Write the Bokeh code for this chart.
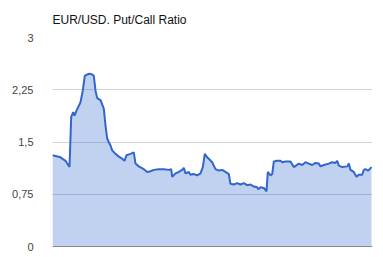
from bokeh.plotting import figure
from bokeh.models import Range1d, FixedTicker, Span
from bokeh.embed import file_html
from bokeh.resources import INLINE

title = "EUR/USD. Put/Call Ratio"
t = [0, 8, 13, 17, 18.7, 20.7, 22, 24, 28, 30.3, 32.3, 34.7, 37, 39.7, 41.3, 43, 44.7, 48,
     51.3, 53, 54.7, 56.3, 58, 59.7, 63, 66.3, 69.7, 72, 74, 78, 81.3, 83, 86.3, 91.3, 94.7,
     98, 101.3, 106.3, 111.3, 116.3, 118.7, 119.7, 123, 126.3, 129.7, 131.3, 133, 136.3, 138,
     141.3, 144.7, 148, 150.3, 152.3, 154.7, 156.3, 159.7, 163, 166.3, 169.7, 173, 176.3, 178,
     181.3, 184.7, 188, 191.3, 194.7, 198, 201.3, 204.7, 205.7, 208, 211.3, 214, 215.3, 218,
     219.7, 221.3, 224.7, 228, 229.7, 233, 238, 241.3, 246.3, 249.7, 253, 256.3, 259.7, 263,
     266.3, 268, 271.3, 276.3, 279.7, 283, 284.7, 286.3, 289.7, 294.7, 296.3, 298, 301.3, 304,
     306.3, 309.7, 311.3, 313, 315.7, 319]
ratio = [1.31, 1.28, 1.23, 1.14, 1.86, 1.93, 1.88, 1.95, 2.07, 2.24, 2.45, 2.47, 2.48, 2.47,
         2.45, 2.24, 2.13, 2.10, 1.98, 1.74, 1.55, 1.50, 1.45, 1.38, 1.33, 1.29, 1.26, 1.23,
         1.31, 1.33, 1.35, 1.19, 1.15, 1.11, 1.07, 1.08, 1.10, 1.11, 1.11, 1.10, 1.11, 1.00,
         1.05, 1.07, 1.10, 1.13, 1.05, 1.07, 1.03, 1.04, 1.02, 1.05, 1.14, 1.33, 1.28, 1.26,
         1.21, 1.11, 1.09, 1.10, 1.07, 1.04, 0.90, 0.89, 0.91, 0.89, 0.91, 0.88, 0.89, 0.86,
         0.85, 0.82, 0.85, 0.84, 0.79, 1.07, 1.02, 1.04, 1.22, 1.23, 1.23, 1.21, 1.22, 1.22,
         1.14, 1.19, 1.17, 1.21, 1.19, 1.17, 1.20, 1.19, 1.15, 1.17, 1.19, 1.21, 1.20, 1.23,
         1.16, 1.14, 1.15, 1.19, 1.10, 1.07, 1.00, 1.03, 1.03, 1.10, 1.11, 1.09, 1.14]
ticks = [0, 0.75, 1.5, 2.25, 3]
tick_labels = ["0", "0,75", "1,5", "2,25", "3"]

p = figure(width=383, height=257, output_backend="svg", toolbar_location=None,
           x_range=Range1d(0, 320), y_range=Range1d(0, 3),
           min_border_left=52, min_border_right=11, min_border_top=37, min_border_bottom=11)
p.outline_line_color = None
p.background_fill_color = "white"

p.title.text = title
p.title.text_font = "Liberation Sans"
p.title.text_font_size = "12px"
p.title.text_font_style = "normal"
p.title.text_color = "#111111"
p.title.standoff = 17
p.title.vertical_align = "top"
p.title.offset = 0

p.xaxis.visible = False
p.xgrid.visible = False

yax = p.yaxis[0]
yax.ticker = FixedTicker(ticks=ticks)
yax.major_label_overrides = {v: s for v, s in zip(ticks, tick_labels)}
yax.axis_line_color = None
yax.major_tick_line_color = None
yax.minor_tick_line_color = None
yax.major_label_standoff = 13
yax.major_label_text_font = "Liberation Sans"
yax.major_label_text_font_size = "11px"
yax.major_label_text_color = "#444444"

p.ygrid.ticker = FixedTicker(ticks=ticks[1:])
p.ygrid.grid_line_color = "#a8a0b0"
p.ygrid.grid_line_dash = "1 1"

p.varea(x=t, y1=0, y2=ratio, fill_color="#3366cc", fill_alpha=0.3)
p.line(x=t, y=ratio, line_color="#3366cc", line_width=2)
p.add_layout(Span(location=0, dimension="width", line_color="#222222", line_width=1))

open("out.html", "w").write(file_html(p, INLINE))
